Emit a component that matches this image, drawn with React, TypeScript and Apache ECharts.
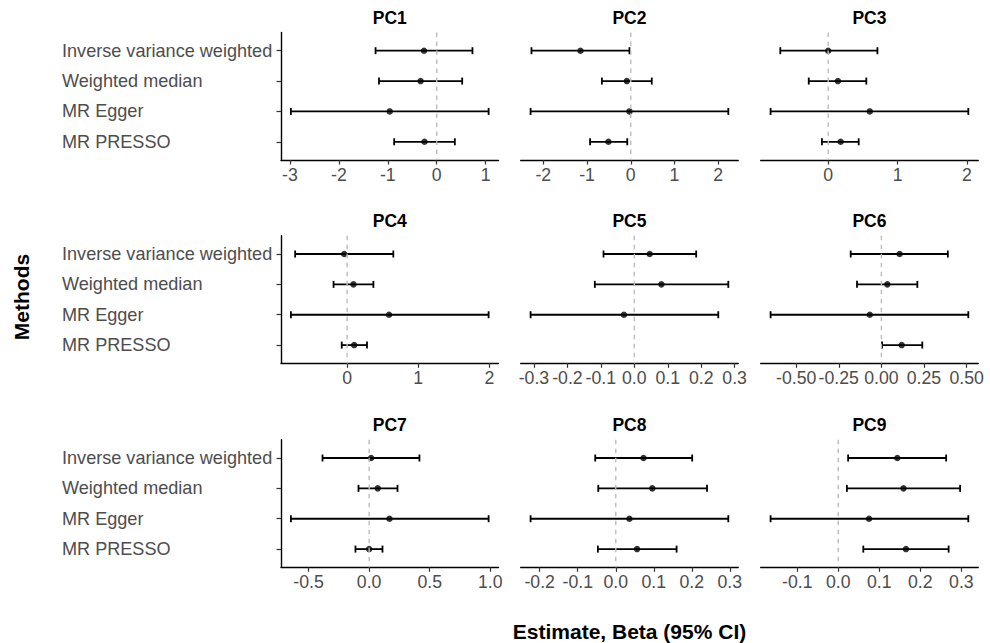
import React, { useEffect, useRef } from "react";
import * as echarts from "echarts";

const FONT = '"Liberation Sans", Arial, Helvetica, sans-serif';

const methods = ["Inverse variance weighted", "Weighted median", "MR Egger", "MR PRESSO"];
const methodRows = [1, 2, 3, 4];
const panels = ["PC1", "PC2", "PC3", "PC4", "PC5", "PC6", "PC7", "PC8", "PC9"];

const est_PC1 = [-0.26, -0.33, -0.96, -0.25];
const lo_PC1 = [-1.25, -1.18, -2.98, -0.87];
const hi_PC1 = [0.73, 0.52, 1.06, 0.37];

const est_PC2 = [-1.15, -0.09, -0.03, -0.51];
const lo_PC2 = [-2.27, -0.66, -2.29, -0.93];
const hi_PC2 = [-0.03, 0.48, 2.23, -0.08];

const est_PC3 = [0.0, 0.14, 0.6, 0.18];
const lo_PC3 = [-0.69, -0.28, -0.83, -0.09];
const hi_PC3 = [0.71, 0.55, 2.02, 0.44];

const est_PC4 = [-0.04, 0.09, 0.59, 0.1];
const lo_PC4 = [-0.73, -0.19, -0.79, -0.075];
const hi_PC4 = [0.65, 0.37, 1.99, 0.28];

const est_PC5 = [0.046, 0.081, -0.031, null];
const lo_PC5 = [-0.092, -0.118, -0.31, null];
const hi_PC5 = [0.185, 0.281, 0.251, null];

const est_PC6 = [0.107, 0.035, -0.068, 0.119];
const lo_PC6 = [-0.18, -0.143, -0.65, 0.004];
const hi_PC6 = [0.39, 0.211, 0.51, 0.24];

const est_PC7 = [0.016, 0.071, 0.168, 0.0];
const lo_PC7 = [-0.385, -0.088, -0.646, -0.113];
const hi_PC7 = [0.415, 0.234, 0.986, 0.11];

const est_PC8 = [0.073, 0.096, 0.036, 0.056];
const lo_PC8 = [-0.054, -0.046, -0.224, -0.047];
const hi_PC8 = [0.201, 0.24, 0.296, 0.16];

const est_PC9 = [0.144, 0.159, 0.075, 0.165];
const lo_PC9 = [0.024, 0.021, -0.165, 0.061];
const hi_PC9 = [0.263, 0.297, 0.317, 0.269];

const ticks_PC1 = [-3, -2, -1, 0, 1];
const ticks_PC2 = [-2, -1, 0, 1, 2];
const ticks_PC3 = [0, 1, 2];
const ticks_PC4 = [0, 1, 2];
const ticks_PC5 = [-0.3, -0.2, -0.1, 0, 0.1, 0.2, 0.3];
const ticks_PC6 = [-0.5, -0.25, 0, 0.25, 0.5];
const ticks_PC7 = [-0.5, 0, 0.5, 1];
const ticks_PC8 = [-0.2, -0.1, 0, 0.1, 0.2, 0.3];
const ticks_PC9 = [-0.1, 0, 0.1, 0.2, 0.3];
const tickDecimals = [0, 0, 0, 0, 1, 2, 1, 1, 1];

const ests = [est_PC1, est_PC2, est_PC3, est_PC4, est_PC5, est_PC6, est_PC7, est_PC8, est_PC9];
const los = [lo_PC1, lo_PC2, lo_PC3, lo_PC4, lo_PC5, lo_PC6, lo_PC7, lo_PC8, lo_PC9];
const his = [hi_PC1, hi_PC2, hi_PC3, hi_PC4, hi_PC5, hi_PC6, hi_PC7, hi_PC8, hi_PC9];
const ticks = [ticks_PC1, ticks_PC2, ticks_PC3, ticks_PC4, ticks_PC5, ticks_PC6, ticks_PC7, ticks_PC8, ticks_PC9];

// layout (pixels)
const colLeft = [281, 520.7, 760.7];
const colWidth = 217.5;
const rowTop = [32.5, 235.8, 439.8];
const rowHeight = 127.5;

function buildOption() {
  const grid: any[] = [];
  const xAxis: any[] = [];
  const yAxis: any[] = [];
  const series: any[] = [];
  const graphic: any[] = [];

  panels.forEach((name, i) => {
    const r = Math.floor(i / 3);
    const c = i % 3;
    grid.push({ left: colLeft[c], top: rowTop[r], width: colWidth, height: rowHeight, containLabel: false });

    const lo = los[i].filter((v) => v != null) as number[];
    const hi = his[i].filter((v) => v != null) as number[];
    const dmin = Math.min(...lo);
    const dmax = Math.max(...hi);
    const pad = (dmax - dmin) * 0.05;
    const dec = tickDecimals[i];

    xAxis.push({
      gridIndex: i,
      type: "value",
      min: dmin - pad,
      max: dmax + pad,
      splitLine: { show: false },
      axisLine: { show: true, onZero: false, lineStyle: { color: "#000", width: 1.4 } },
      axisTick: { show: true, length: 4.5, customValues: ticks[i], lineStyle: { color: "#333", width: 1.2 } },
      axisLabel: {
        customValues: ticks[i],
        formatter: (v: number) => Number(v).toFixed(dec),
        color: "#4D4D4D",
        fontSize: 17.7,
        fontFamily: FONT,
        margin: 6,
      },
    });

    const showY = c === 0;
    yAxis.push({
      gridIndex: i,
      type: "value",
      min: 0.4,
      max: 4.6,
      inverse: true,
      splitLine: { show: false },
      axisLine: { show: showY, onZero: false, lineStyle: { color: "#000", width: 1.4 } },
      axisTick: { show: showY, length: 4.5, customValues: methodRows, lineStyle: { color: "#333", width: 1.2 } },
      axisLabel: {
        show: showY,
        customValues: methodRows,
        formatter: (v: number) => methods[Math.round(v) - 1] || "",
        align: "left",
        margin: 219,
        color: "#4D4D4D",
        fontSize: 18.1,
        fontFamily: FONT,
      },
    });

    const barData: any[] = [];
    const ptData: any[] = [];
    methods.forEach((m, j) => {
      if (los[i][j] != null && his[i][j] != null) barData.push([los[i][j], his[i][j], methodRows[j]]);
      if (ests[i][j] != null) ptData.push([ests[i][j], methodRows[j]]);
    });

    series.push({
      type: "custom",
      xAxisIndex: i,
      yAxisIndex: i,
      z: 2,
      encode: { x: [0, 1], y: 2 },
      data: barData,
      renderItem: (params: any, api: any) => {
        const l = api.value(0);
        const h = api.value(1);
        const y = api.value(2);
        const p1 = api.coord([l, y]);
        const p2 = api.coord([h, y]);
        const cap = 3.5;
        const st = { stroke: "#000", lineWidth: 1.8 };
        return {
          type: "group",
          children: [
            { type: "line", shape: { x1: p1[0], y1: p1[1], x2: p2[0], y2: p2[1] }, style: st },
            { type: "line", shape: { x1: p1[0], y1: p1[1] - cap, x2: p1[0], y2: p1[1] + cap }, style: st },
            { type: "line", shape: { x1: p2[0], y1: p2[1] - cap, x2: p2[0], y2: p2[1] + cap }, style: st },
          ],
        };
      },
    });

    series.push({
      type: "scatter",
      xAxisIndex: i,
      yAxisIndex: i,
      z: 3,
      symbol: "circle",
      symbolSize: 6.5,
      itemStyle: { color: "#000" },
      data: ptData,
    });

    series.push({
      type: "line",
      xAxisIndex: i,
      yAxisIndex: i,
      z: 4,
      silent: true,
      symbol: "none",
      lineStyle: { color: "#BDBDBD", width: 1.4, type: [4.5, 4.5] },
      data: [
        [0, 0.4],
        [0, 4.6],
      ],
    });

    graphic.push({
      type: "text",
      x: colLeft[c] + colWidth / 2,
      y: rowTop[r] - 14.5,
      style: {
        text: name,
        fill: "#000",
        fontSize: 17.5,
        fontWeight: "bold",
        fontFamily: FONT,
        align: "center",
        verticalAlign: "middle",
        textAlign: "center",
        textVerticalAlign: "middle",
      },
    });
  });

  graphic.push({
    type: "text",
    x: 21,
    y: 297,
    rotation: Math.PI / 2,
    style: {
      text: "Methods",
      fill: "#000",
      fontSize: 21,
      fontWeight: "bold",
      fontFamily: FONT,
      align: "center",
      verticalAlign: "middle",
      textAlign: "center",
      textVerticalAlign: "middle",
    },
  });
  graphic.push({
    type: "text",
    x: 629.5,
    y: 631,
    style: {
      text: "Estimate, Beta (95% CI)",
      fill: "#000",
      fontSize: 21,
      fontWeight: "bold",
      fontFamily: FONT,
      align: "center",
      verticalAlign: "middle",
      textAlign: "center",
      textVerticalAlign: "middle",
    },
  });

  return {
    animation: false,
    backgroundColor: "#fff",
    grid,
    xAxis,
    yAxis,
    series,
    graphic,
  };
}

export default function App() {
  const ref = useRef<HTMLDivElement>(null);
  useEffect(() => {
    if (!ref.current) return;
    const chart = echarts.init(ref.current, null, { renderer: "svg" });
    chart.setOption(buildOption() as any);
    return () => chart.dispose();
  }, []);
  return (
    <div
      ref={ref}
      style={{ position: "fixed", left: 0, top: 0, width: 990, height: 643, background: "#fff" }}
    />
  );
}
